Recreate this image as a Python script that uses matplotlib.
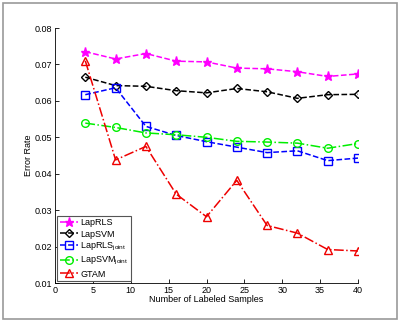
import numpy as np
import matplotlib
matplotlib.use('Agg')
import matplotlib.pyplot as plt
from matplotlib.patches import Rectangle

samples = [4, 8, 12, 16, 20, 24, 28, 32, 36, 40]
laprls = [0.0735, 0.0715, 0.0730, 0.0709, 0.0707, 0.0690, 0.0688, 0.0680, 0.0667, 0.0674]
lapsvm = [0.0665, 0.0642, 0.0640, 0.0628, 0.0622, 0.0634, 0.0625, 0.0607, 0.0617, 0.0618]
laprls_joint = [0.0617, 0.0636, 0.0530, 0.0505, 0.0488, 0.0473, 0.0458, 0.0463, 0.0436, 0.0443]
lapsvm_joint = [0.0539, 0.0527, 0.0512, 0.0507, 0.0500, 0.0489, 0.0487, 0.0484, 0.0470, 0.0483]
gtam = [0.0710, 0.0438, 0.0475, 0.0344, 0.0282, 0.0382, 0.0258, 0.0237, 0.0192, 0.0188]

plt.rcParams['font.family'] = ['Liberation Sans', 'DejaVu Sans']
plt.rcParams['font.size'] = 6.5

fig = plt.figure(figsize=(4.0, 3.22), dpi=100)
fig.patch.set_facecolor('white')
fig.patches.append(Rectangle((0.008, 0.01), 0.984, 0.98, transform=fig.transFigure,
                             fill=False, edgecolor='#999999', linewidth=1.2))
ax = fig.add_axes([0.1375, 0.121, 0.7575, 0.792])

ms = 5.5
lw = 1.1
ax.plot(samples, laprls, '--', color='#ff00ff', marker='*', ms=6.5, mfc='#ff00ff', lw=lw, label='LapRLS')
ax.plot(samples, lapsvm, '--', color='black', marker='D', ms=4.5, mfc='none', mew=1, lw=lw, label='LapSVM')
ax.plot(samples, laprls_joint, '--', color='#0000ff', marker='s', ms=ms, mfc='none', mew=1, lw=lw,
        label='LapRLS$_{\\mathregular{joint}}$')
ax.plot(samples, lapsvm_joint, '-.', color='#00ee00', marker='o', ms=ms, mfc='none', mew=1, lw=lw,
        label='LapSVM$_{\\mathregular{joint}}$')
ax.plot(samples, gtam, '-.', color='#ee0000', marker='^', ms=ms, mfc='none', mew=1, lw=lw, label='GTAM')

ax.set_xlim(0, 40)
ax.set_ylim(0.01, 0.08)
ax.set_xticks(np.arange(0, 41, 5))
ax.set_yticks(np.arange(0.01, 0.081, 0.01))
ax.set_yticklabels(['%.2f' % v for v in np.arange(0.01, 0.081, 0.01)])
ax.tick_params(direction='in', length=3, width=0.6, pad=2)
ax.spines['top'].set_visible(False)
ax.spines['right'].set_visible(False)
for s in ['left', 'bottom']:
    ax.spines[s].set_linewidth(0.6)
ax.set_xlabel('Number of Labeled Samples', labelpad=0)
ax.set_ylabel('Error Rate', labelpad=1)

leg = ax.legend(loc='lower left', fancybox=False, edgecolor='#555555', framealpha=1,
                handlelength=2.0, handletextpad=0.3, borderpad=0.3, labelspacing=0.25,
                borderaxespad=0.2)
leg.get_frame().set_linewidth(0.8)

plt.savefig('out.png', dpi=100)
